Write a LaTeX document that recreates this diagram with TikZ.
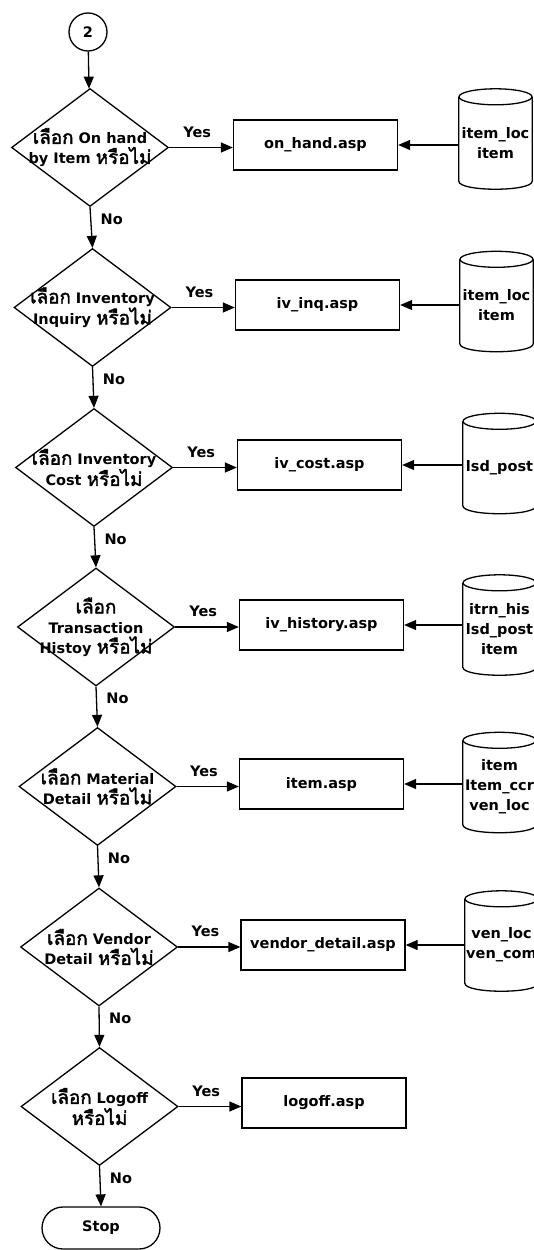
\documentclass[tikz,border=0pt]{standalone}
\usepackage{fontspec}
\setmainfont{DejaVu Sans}
\newfontfamily\thaifont[Script=Thai,Scale=1.3,AutoFakeBold=2]{Loma}
\newcommand\thai[1]{{\thaifont #1}}
\usetikzlibrary{shapes.geometric,arrows.meta}
% outline of a table store round an invisible node
\newcommand\dbdraw[1]{%
  \draw[flowline] ([yshift=-8pt]#1.north west) -- ([yshift=8pt]#1.south west)
    .. controls ([yshift=-2.7pt]#1.south west) and ([yshift=-2.7pt]#1.south east)
    .. ([yshift=8pt]#1.south east) -- ([yshift=-8pt]#1.north east);
  \draw[flowline] ([yshift=-8pt]#1.north) ellipse [x radius=36.5pt, y radius=8pt];
}
\begin{document}
\begin{tikzpicture}[x=1pt,y=-1pt,
  every node/.style={font=\bfseries\fontsize{14.5}{20}\selectfont},
  flowline/.style={line width=1.3pt},
  arr/.style={flowline,-{Triangle[length=12pt,width=10pt]}},
  decision/.style={draw,flowline,diamond,minimum width=157pt,minimum height=118pt,inner sep=0pt},
  aspbox/.style={draw,flowline,rectangle,minimum width=164pt,minimum height=50pt},
  dbase/.style={rectangle,minimum width=73pt,minimum height=100pt,inner sep=0pt},
  ]
\useasboundingbox (0,0) rectangle (533,1250);
% start connector
\node[circle,draw,flowline,minimum size=38pt,inner sep=0pt] (con2) at (88,32) {2};
% decisions
\node[decision,label={[align=center]center:{\thai{เลือก} On hand\\by Item \thai{หรือไม่}}}] (d1) at (90,147.5) {};
\node[decision,label={[align=center]center:{\thai{เลือก} Inventory\\Inquiry \thai{หรือไม่}}}] (d2) at (92.5,307.5) {};
\node[decision,label={[align=center]center:{\thai{เลือก} Inventory\\Cost \thai{หรือไม่}}}] (d3) at (94,467.5) {};
\node[decision,label={[align=center]center:{\thai{เลือก}\\Transaction\\Histoy \thai{หรือไม่}}}] (d4) at (96,627) {};
\node[decision,label={[align=center]center:{\thai{เลือก} Material\\Detail \thai{หรือไม่}}}] (d5) at (97.5,786.5) {};
\node[decision,label={[align=center]center:{\thai{เลือก} Vendor\\Detail \thai{หรือไม่}}}] (d6) at (99,947) {};
\node[decision,label={[align=center]center:{\thai{เลือก} Logoff\\\thai{หรือไม่}}}] (d7) at (99.5,1106.5) {};
\node[draw,flowline,rounded corners=21pt,minimum width=118pt,minimum height=42pt] (stop) at (101,1228) {Stop};
% pages
\node[aspbox] (onhand) at (315.5,145) {on\_hand.asp};
\node[aspbox] (ivinq) at (317.5,305) {iv\_inq.asp};
\node[aspbox] (ivcost) at (319.5,465) {iv\_cost.asp};
\node[aspbox] (ivhist) at (321.5,625) {iv\_history.asp};
\node[aspbox] (itemasp) at (321.5,784) {item.asp};
\node[aspbox] (vendor) at (323,945) {vendor\_detail.asp};
\node[aspbox] (logoff) at (324,1103) {logoff.asp};
% tables
\node[dbase,label={[align=center,yshift=-4pt]center:{item\_loc\\item}}] (db1) at (495.5,139) {};
\node[dbase,label={[align=center,yshift=-4pt]center:{item\_loc\\item}}] (db2) at (496.5,301.5) {};
\node[dbase,label={[align=center,yshift=-4pt]center:{lsd\_post}}] (db3) at (499.5,463.5) {};
\node[dbase,label={[align=center,yshift=-4pt]center:{itrn\_his\\lsd\_post\\item}}] (db4) at (499.5,625) {};
\node[dbase,label={[align=center,yshift=-4pt]center:{item\\Item\_ccr\\ven\_loc}}] (db5) at (499.5,782.5) {};
\node[dbase,label={[align=center,yshift=-4pt]center:{ven\_loc\\ven\_com}}] (db6) at (501.5,941) {};
\dbdraw{db1}
\dbdraw{db2}
\dbdraw{db3}
\dbdraw{db4}
\dbdraw{db5}
\dbdraw{db6}
% main flow
\draw[arr] (con2) -- (d1);
\draw[arr] (d1.south) -- (d2.north) node[pos=.3,right=6pt]{No};
\draw[arr] (d2.south) -- (d3.north) node[pos=.3,right=6pt]{No};
\draw[arr] (d3.south) -- (d4.north) node[pos=.3,right=6pt]{No};
\draw[arr] (d4.south) -- (d5.north) node[pos=.3,right=6pt]{No};
\draw[arr] (d5.south) -- (d6.north) node[pos=.3,right=6pt]{No};
\draw[arr] (d6.south) -- (d7.north) node[pos=.3,right=6pt]{No};
\draw[arr] (d7.south) -- (stop.north) node[pos=.3,right=6pt]{No};
% yes branches
\draw[arr] (d1.east) -- (d1.east -| onhand.west) node[pos=.44,above=6pt]{Yes};
\draw[arr] (d2.east) -- (d2.east -| ivinq.west) node[pos=.44,above=6pt]{Yes};
\draw[arr] (d3.east) -- (d3.east -| ivcost.west) node[pos=.44,above=6pt]{Yes};
\draw[arr] (d4.east) -- (d4.east -| ivhist.west) node[pos=.44,above=6pt]{Yes};
\draw[arr] (d5.east) -- (d5.east -| itemasp.west) node[pos=.44,above=6pt]{Yes};
\draw[arr] (d6.east) -- (d6.east -| vendor.west) node[pos=.44,above=6pt]{Yes};
\draw[arr] (d7.east) -- (d7.east -| logoff.west) node[pos=.44,above=6pt]{Yes};
% table reads
\draw[arr] (onhand.east -| db1.west) -- (onhand.east);
\draw[arr] (ivinq.east -| db2.west) -- (ivinq.east);
\draw[arr] (ivcost.east -| db3.west) -- (ivcost.east);
\draw[arr] (ivhist.east -| db4.west) -- (ivhist.east);
\draw[arr] (itemasp.east -| db5.west) -- (itemasp.east);
\draw[arr] (vendor.east -| db6.west) -- (vendor.east);
\end{tikzpicture}
\end{document}
